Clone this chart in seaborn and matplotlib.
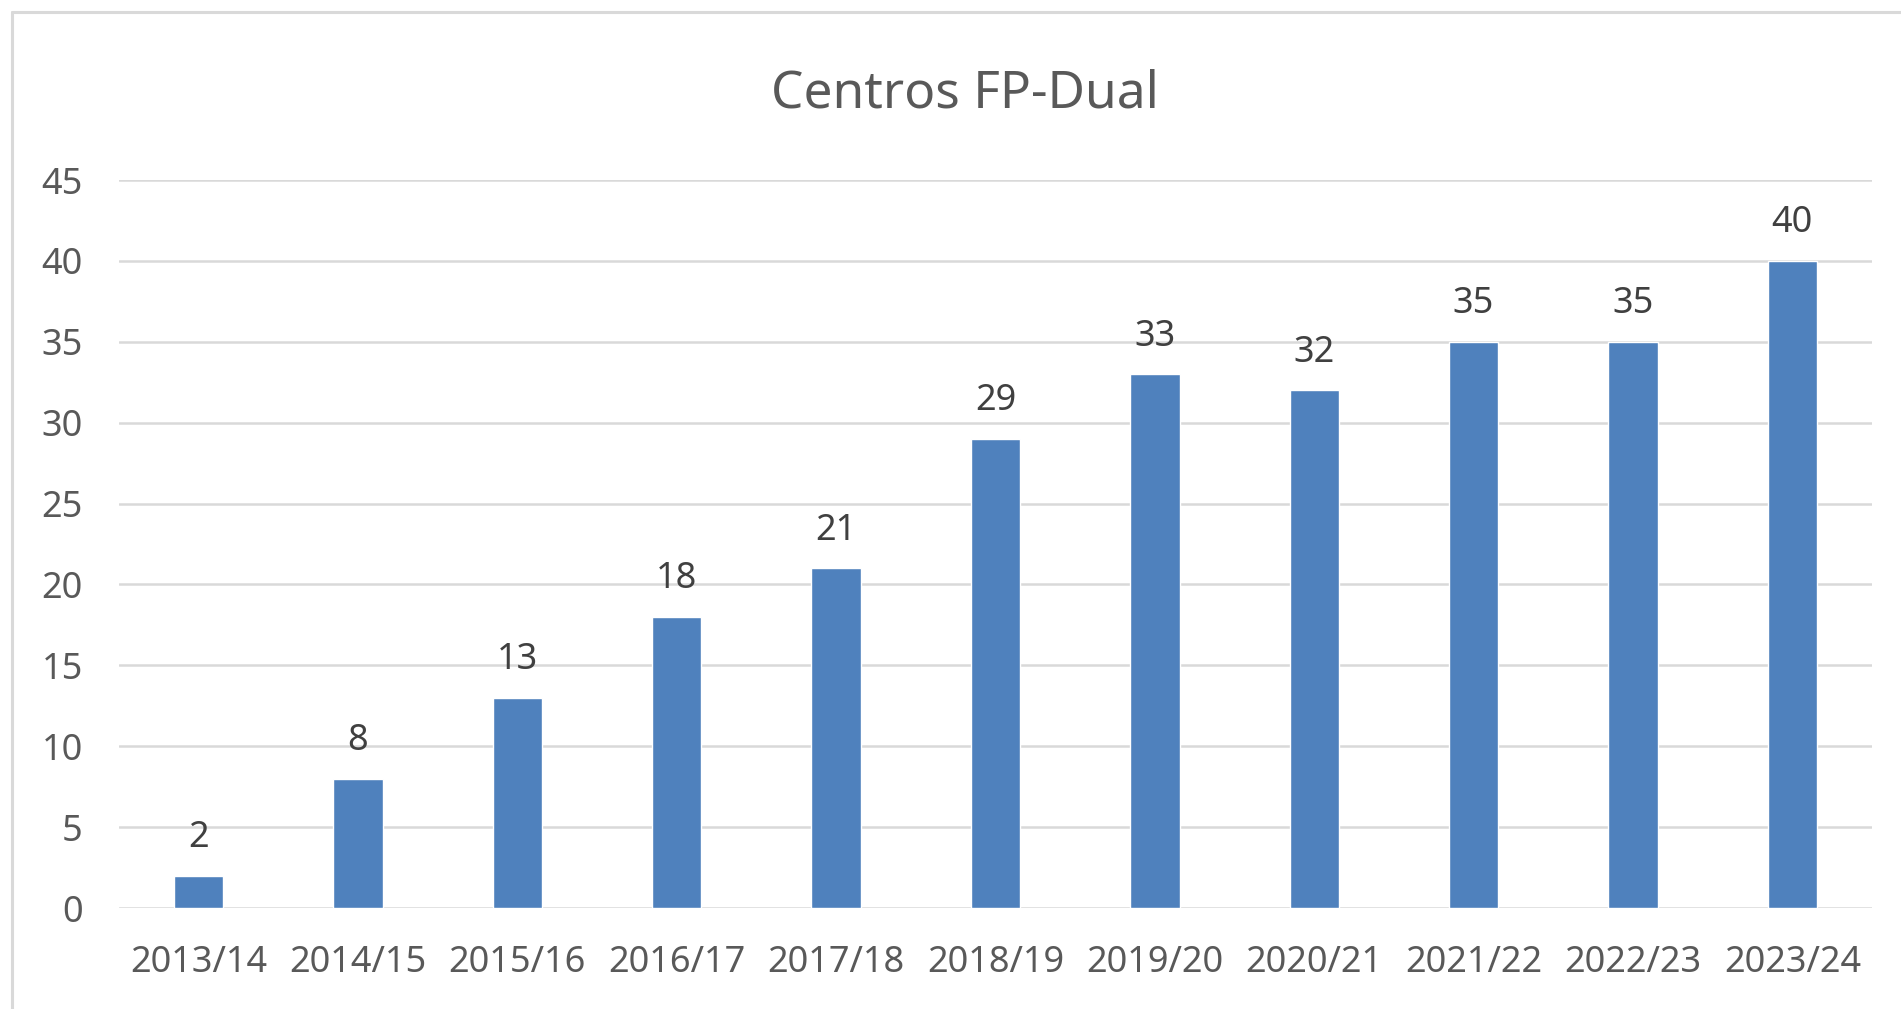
import matplotlib.pyplot as plt
import matplotlib.lines as mlines
import seaborn as sns

# Data
cursos = ['2013/14', '2014/15', '2015/16', '2016/17', '2017/18', '2018/19',
          '2019/20', '2020/21', '2021/22', '2022/23', '2023/24']
centros = [2, 8, 13, 18, 21, 29, 33, 32, 35, 35, 40]
y_ticks = list(range(0, 50, 5))

# Style, then the font list (set_style resets font.family)
sns.set_style('white')
plt.rcParams['font.family'] = ['Noto Sans', 'DejaVu Sans']

fig = plt.figure(figsize=(19.01, 10.09), dpi=100)
ax = fig.add_axes([119 / 1901, 1 - 908 / 1009, 1753 / 1901, 728 / 1009])

# Bars
sns.barplot(x=cursos, y=centros, color='#4f81bd', saturation=1,
            width=0.31, ax=ax, zorder=3)

# Value labels above the bars
ax.bar_label(ax.containers[0], labels=[str(v) for v in centros],
             padding=14, fontsize=26, color='#404040')

# Axes, ticks and grid
ax.set_xlim(-0.5, len(cursos) - 0.5)
ax.set_ylim(0, 45)
ax.set_yticks(y_ticks)
ax.set_xlabel('')
ax.set_ylabel('')
ax.grid(axis='y', color='#d9d9d9', linewidth=1.8, zorder=0)
ax.set_axisbelow(True)
for side in ['top', 'right', 'left', 'bottom']:
    ax.spines[side].set_visible(False)
ax.tick_params(axis='y', length=0, pad=26, labelsize=26, labelcolor='#595959')
ax.tick_params(axis='x', length=0, pad=27, labelsize=26, labelcolor='#595959')

# Title
fig.text(965 / 1901, 1 - 107 / 1009, 'Centros FP-Dual', ha='center',
         va='baseline', fontsize=37, color='#595959')

# Light chart-area border (left and top edges visible)
fig.add_artist(mlines.Line2D([12 / 1901, 12 / 1901], [0, 1 - 12 / 1009],
                             color='#d9d9d9', linewidth=2.2,
                             transform=fig.transFigure))
fig.add_artist(mlines.Line2D([12 / 1901, 1], [1 - 12 / 1009, 1 - 12 / 1009],
                             color='#d9d9d9', linewidth=2.2,
                             transform=fig.transFigure))

fig.savefig('out.png', dpi=100, facecolor='white')
